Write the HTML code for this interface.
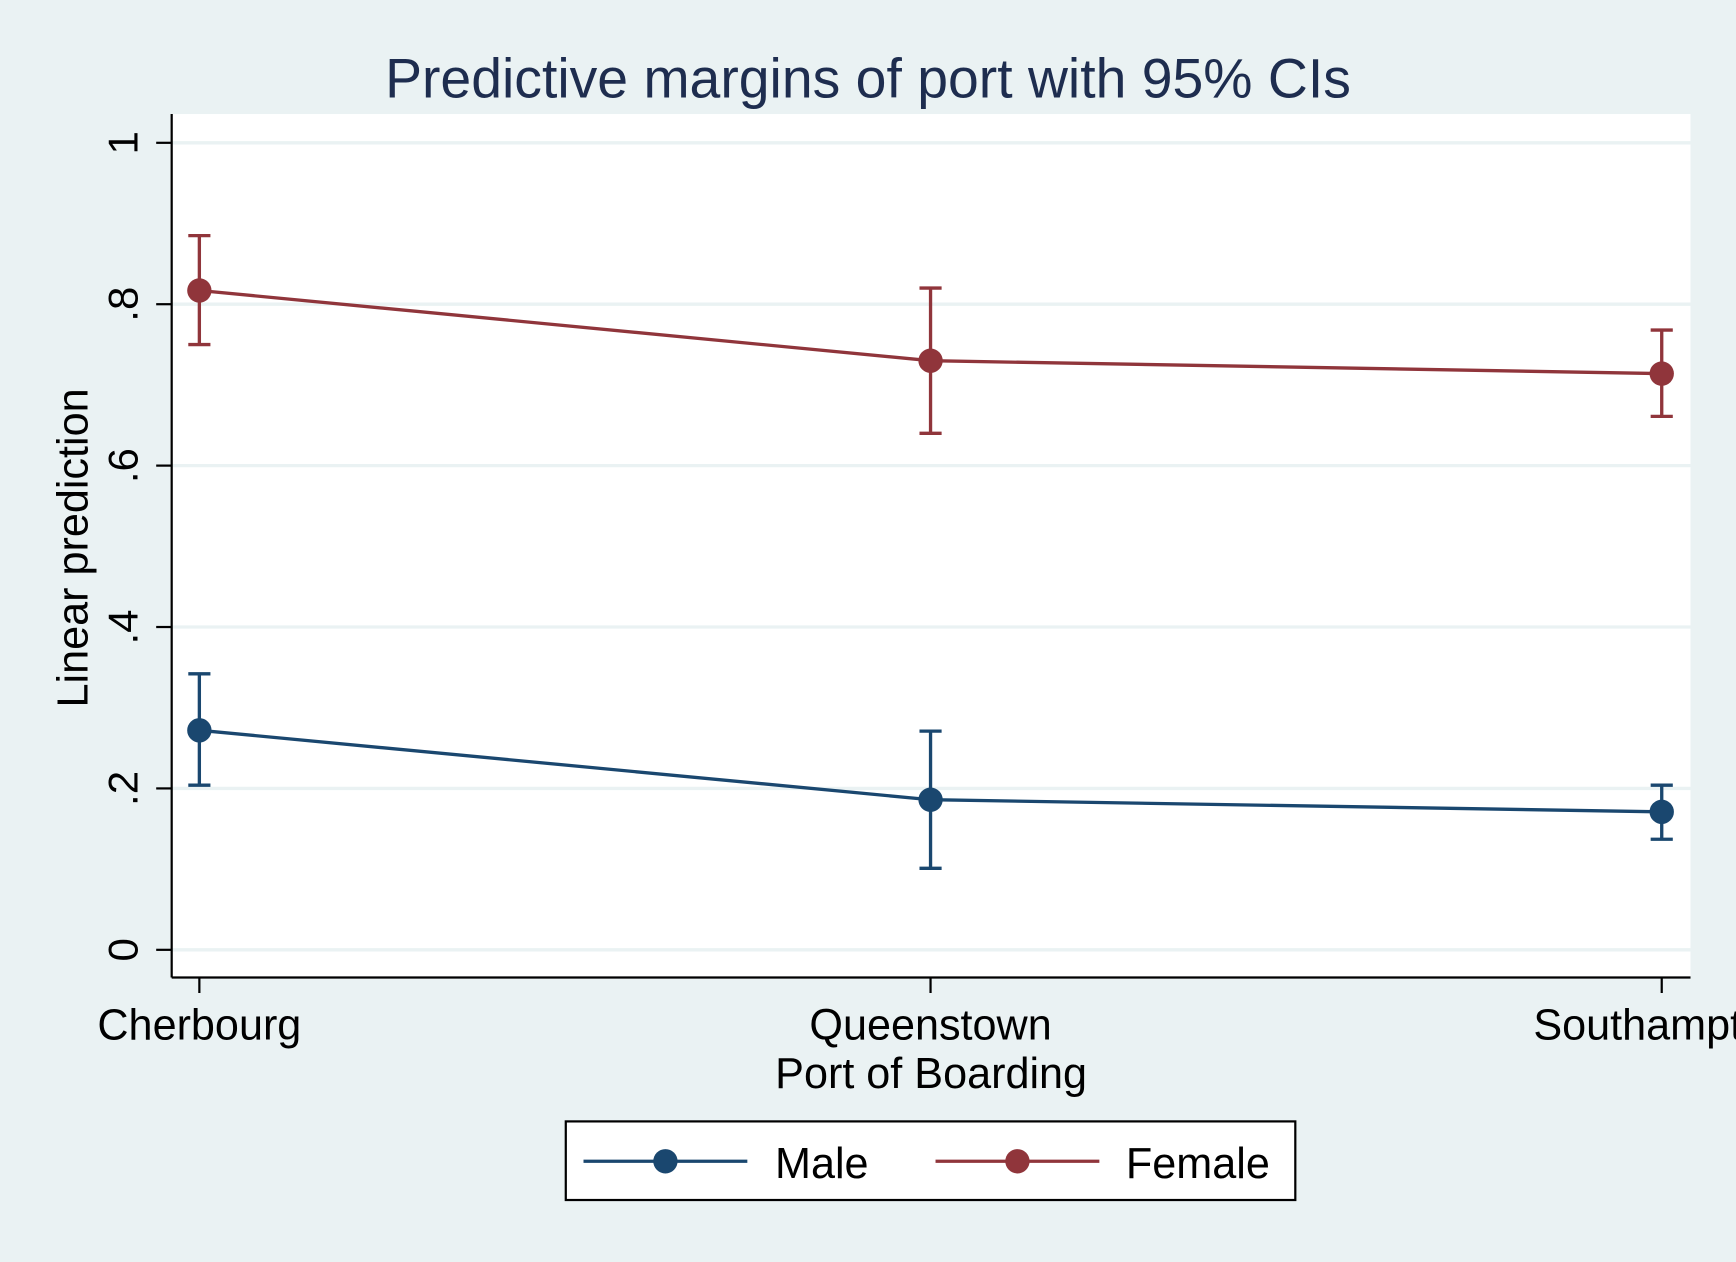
<!DOCTYPE html>
<html><head><meta charset="utf-8"><style>
html,body{margin:0;padding:0;background:#eaf2f3;}
svg{display:block;font-family:"Liberation Sans",Arial,sans-serif;}
</style></head><body>
<svg id="chart" width="1736" height="1262" viewBox="0 0 1568 1140" xmlns="http://www.w3.org/2000/svg">
<rect x="0" y="0" width="1568" height="1140" fill="#eaf2f3"/>
<rect x="155" y="103" width="1372" height="780" fill="#ffffff"/>
<text x="784" y="88" font-size="50" fill="#1e2d4f" text-anchor="middle">Predictive margins of port with 95% CIs</text>
<g id="grid"></g>
<g id="yaxis"></g>
<g id="xaxis"></g>
<g id="series"></g>
<text transform="translate(79,495) rotate(-90)" font-size="39" fill="#000" text-anchor="middle">Linear prediction</text>
<text x="841" y="983" font-size="39" fill="#000" text-anchor="middle">Port of Boarding</text>
<g>
<rect x="511" y="1013" width="659" height="71" fill="#fff" stroke="#000" stroke-width="2"/>
<line x1="527" y1="1049" x2="675" y2="1049" stroke="#1a476f" stroke-width="3"/>
<circle cx="601" cy="1049" r="11" fill="#1a476f"/>
<text x="700" y="1064" font-size="39">Male</text>
<line x1="845" y1="1049" x2="993" y2="1049" stroke="#90353b" stroke-width="3"/>
<circle cx="919" cy="1049" r="11" fill="#90353b"/>
<text x="1017" y="1064" font-size="39">Female</text>
</g>
</svg>
<script>
const categories = ["Cherbourg","Queenstown","Southampton"];
const maleValues = [0.272,0.186,0.171];
const maleLower = [0.204,0.101,0.137];
const maleUpper = [0.342,0.271,0.204];
const femaleValues = [0.817,0.730,0.714];
const femaleLower = [0.750,0.640,0.661];
const femaleUpper = [0.885,0.820,0.768];
const yTicks = [0,0.2,0.4,0.6,0.8,1];
const yTickLabels = ["0",".2",".4",".6",".8","1"];

const NS="http://www.w3.org/2000/svg";
function y(v){return 858 - v*729;}
function x(i){return 180 + i*660.5;}
function mk(tag,attrs,parent){const e=document.createElementNS(NS,tag);for(const k in attrs)e.setAttribute(k,attrs[k]);parent.appendChild(e);return e;}
const grid=document.getElementById('grid'),ya=document.getElementById('yaxis'),xa=document.getElementById('xaxis'),ser=document.getElementById('series');
yTicks.forEach((t,i)=>{
  const g=mk('line',{x1:155,x2:1527,y1:y(t),y2:y(t),stroke:'#eaf2f3','stroke-width':3},grid);
  
  
  const tk=mk('line',{x1:141,x2:155,y1:y(t),y2:y(t),stroke:'#000','stroke-width':2},ya);
  
  
  const tl=mk('text',{transform:`translate(124,${y(t)}) rotate(-90)`,'font-size':38,'text-anchor':'middle'},ya);
  tl.textContent=yTickLabels[i];
  
  
});
mk('line',{x1:155,x2:155,y1:103,y2:883,stroke:'#000','stroke-width':2},ya);
mk('line',{x1:155,x2:1527,y1:883,y2:883,stroke:'#000','stroke-width':2},xa);
categories.forEach((c,i)=>{
  const tk=mk('line',{x1:x(i),x2:x(i),y1:883,y2:897,stroke:'#000','stroke-width':2},xa);
  
  
  const tl=mk('text',{x:x(i),y:939,'font-size':39,'text-anchor':'middle'},xa);
  tl.textContent=c;
  
  
});
function drawSeries(vals,lo,hi,color,name){
  const pts=vals.map((v,i)=>x(i)+','+y(v)).join(' ');
  const pl=mk('polyline',{points:pts,fill:'none',stroke:color,'stroke-width':3},ser);
  
  
  vals.forEach((v,i)=>{
    const cx=x(i);
    const eb=mk('path',{d:`M${cx},${y(lo[i])}V${y(hi[i])}M${cx-10},${y(lo[i])}H${cx+10}M${cx-10},${y(hi[i])}H${cx+10}`,stroke:color,'stroke-width':3,fill:'none'},ser);
    
    
    const c=mk('circle',{cx:cx,cy:y(v),r:11,fill:color},ser);
    
    
  });
}
drawSeries(maleValues,maleLower,maleUpper,'#1a476f','male');
drawSeries(femaleValues,femaleLower,femaleUpper,'#90353b','female');
</script>
</body></html>
